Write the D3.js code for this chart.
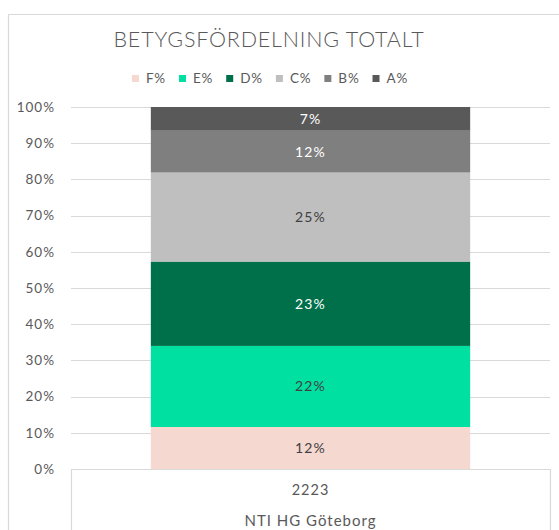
<!DOCTYPE html>
<html lang="sv">
<head>
  <meta charset="UTF-8" />
  <title>Betygsfördelning totalt</title>
  <script src="https://d3js.org/d3.v7.min.js"></script>
  <style>
    body { margin: 0; background: #fff; }
    svg { display: block; font-family: "Lato", "Open Sans", sans-serif; }
    .grid line { stroke: #d9d9d9; stroke-width: 1.2; }
  </style>
</head>
<body>
  <svg id="chart" width="559" height="530"></svg>

  <script>
    // data
    const categories = ["2223"];
    const groupLabels = ["NTI HG Göteborg"];
    const grades = ["F%", "E%", "D%", "C%", "B%", "A%"];
    const shares = [11.6, 22.4, 23.3, 24.6, 11.55, 6.55];
    const gradeColors = ["#f5d8cf", "#00e0a0", "#00704a", "#bfbfbf", "#7f7f7f", "#595959"];
    const labelColors = ["#404040", "#404040", "#ffffff", "#404040", "#ffffff", "#ffffff"];
    const yTicks = [0, 10, 20, 30, 40, 50, 60, 70, 80, 90, 100];

    const svg = d3.select("#chart");
    const plotLeft = 71, plotRight = 550, plotTop = 107, plotBottom = 469;

    // chart frame (only top/left visible in the crop)
    svg.append("path")
      .attr("d", "M8.5,540 V14.5 H570")
      .attr("fill", "none")
      .attr("stroke", "#d9d9d9")
      .attr("stroke-width", 1.2);

    svg.append("text")
      .attr("x", 269).attr("y", 47)
      .attr("text-anchor", "middle")
      .attr("font-size", 21.5)
      .attr("font-weight", 300)
      .attr("letter-spacing", 0.8)
      .attr("fill", "#595959")
      .text("BETYGSFÖRDELNING TOTALT");

    const y = d3.scaleLinear().domain([0, 100]).range([plotBottom, plotTop]);
    const x = d3.scaleBand().domain(categories).range([plotLeft, plotRight]).padding(0.2);

    // gridlines
    svg.append("g").attr("class", "grid")
      .selectAll("line")
      .data(yTicks.filter(d => d > 0))
      .join("line")
      .attr("x1", plotLeft).attr("x2", plotRight)
      .attr("y1", d => Math.round(y(d)) + 0.5)
      .attr("y2", d => Math.round(y(d)) + 0.5);

    // y axis labels
    const yAxis = svg.append("g")
      .attr("transform", `translate(${plotLeft},0)`)
      .call(d3.axisLeft(y).tickValues(yTicks).tickFormat(d => d + "%").tickSize(0).tickPadding(16));
    yAxis.select(".domain").remove();
    yAxis.selectAll("text")
      .attr("font-size", 13.5)
      .attr("letter-spacing", 1)
      .attr("font-family", "Lato, sans-serif")
      .attr("fill", "#595959");

    // stacked bar
    const row = { cat: categories[0] };
    grades.forEach((g, i) => row[g] = shares[i]);
    const stack = d3.stack().keys(grades)([row]);

    const layers = svg.append("g").selectAll("g")
      .data(stack)
      .join("g");

    layers.selectAll("rect")
      .data((d, i) => d.map(p => ({ p, i })))
      .join("rect")
      .attr("x", d => x(d.p.data.cat))
      .attr("width", x.bandwidth())
      .attr("y", d => y(d.p[1]))
      .attr("height", d => y(d.p[0]) - y(d.p[1]))
      .attr("fill", d => gradeColors[d.i]);

    layers.selectAll("text")
      .data((d, i) => d.map(p => ({ p, i })))
      .join("text")
      .attr("x", d => x(d.p.data.cat) + x.bandwidth() / 2)
      .attr("y", d => (y(d.p[0]) + y(d.p[1])) / 2)
      .attr("dy", "0.35em")
      .attr("text-anchor", "middle")
      .attr("font-size", 14)
      .attr("letter-spacing", 1.2)
      .attr("fill", d => labelColors[d.i])
      .text(d => Math.round(d.p[1] - d.p[0]) + "%");

    // category axis box (multi-level)
    svg.append("path")
      .attr("d", `M${plotLeft + 0.5},540 V${plotBottom + 0.5} H${plotRight + 0.5} V540`)
      .attr("fill", "none")
      .attr("stroke", "#d9d9d9")
      .attr("stroke-width", 1.2);

    svg.append("g").selectAll("text")
      .data(categories)
      .join("text")
      .attr("x", d => x(d) + x.bandwidth() / 2)
      .attr("y", 495)
      .attr("text-anchor", "middle")
      .attr("font-size", 14.5)
      .attr("letter-spacing", 1)
      .attr("fill", "#595959")
      .text(d => d);

    svg.append("text")
      .attr("x", (plotLeft + plotRight) / 2)
      .attr("y", 526)
      .attr("text-anchor", "middle")
      .attr("font-size", 15)
      .attr("letter-spacing", 1)
      .attr("fill", "#595959")
      .text(groupLabels[0]);

    // legend
    const legend = svg.append("g");
    const items = legend.selectAll("g")
      .data(grades)
      .join("g");
    items.append("rect")
      .attr("width", 7).attr("height", 7)
      .attr("y", 75)
      .attr("fill", (d, i) => gradeColors[i]);
    items.append("text")
      .attr("x", 14).attr("y", 78.5)
      .attr("dy", "0.35em")
      .attr("font-size", 13.5)
      .attr("letter-spacing", 0.8)
      .attr("fill", "#595959")
      .text(d => d);
    const widths = [];
    items.each(function () { widths.push(this.getBBox().width); });
    const gap = 13;
    const total = d3.sum(widths) + gap * (widths.length - 1);
    let cx = 270 - total / 2;
    items.attr("transform", (d, i) => {
      const t = `translate(${cx},0)`;
      cx += widths[i] + gap;
      return t;
    });
  </script>
</body>
</html>
